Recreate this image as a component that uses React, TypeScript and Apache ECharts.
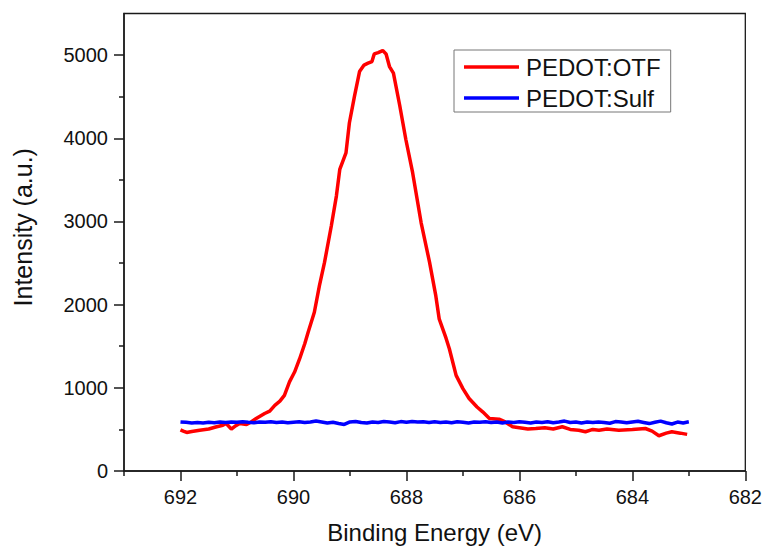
import React, { useEffect, useRef } from "react";
import * as echarts from "echarts";

// PEDOT:OTF (red) – binding energy (eV) and intensity (a.u.)
const otfEnergy = [
  692.0, 691.95, 691.89, 691.8, 691.66, 691.5, 691.36, 691.25, 691.19, 691.1,
  691.02, 690.95, 690.83, 690.75, 690.66, 690.51, 690.42, 690.33, 690.24, 690.16,
  690.07, 689.98, 689.89, 689.8, 689.74, 689.63, 689.54, 689.45, 689.33, 689.24,
  689.18, 689.07, 689.01, 688.92, 688.83, 688.75, 688.68, 688.61, 688.57, 688.5,
  688.42, 688.36, 688.3, 688.23, 688.12, 688.01, 687.89, 687.74, 687.59, 687.48,
  687.42, 687.3, 687.24, 687.12, 687.0, 686.89, 686.75, 686.65, 686.53, 686.36,
  686.25, 686.12, 686.0, 685.85, 685.71, 685.55, 685.4, 685.24, 685.1, 684.95,
  684.83, 684.7, 684.59, 684.45, 684.24, 684.0, 683.77, 683.65, 683.53, 683.4,
  683.3, 683.15, 683.03,
];
const otfIntensity = [
  495, 480, 463, 475, 491, 505, 532, 550, 571, 503,
  545, 571, 559, 590, 631, 691, 720, 790, 840, 910,
  1071, 1190, 1350, 1530, 1669, 1909, 2228, 2508, 2946, 3305,
  3625, 3825, 4184, 4503, 4802, 4880, 4903, 4922, 5014, 5030,
  5054, 5014, 4862, 4783, 4400, 3985, 3586, 2987, 2508, 2108,
  1829, 1600, 1469, 1150, 990, 871, 770, 711, 631, 623,
  590, 532, 520, 505, 511, 520, 505, 532, 500, 490,
  472, 500, 491, 505, 491, 500, 511, 480, 424, 455,
  472, 455, 440,
];

// PEDOT:Sulf (blue) – sampled every 0.1 eV from 692.0 down to 683.0
const sulfEnergy = [
  692.0, 691.9, 691.8, 691.7, 691.6, 691.5, 691.4, 691.3, 691.2, 691.1,
  691.0, 690.9, 690.8, 690.7, 690.6, 690.5, 690.4, 690.3, 690.2, 690.1,
  690.0, 689.9, 689.8, 689.7, 689.6, 689.5, 689.4, 689.3, 689.2, 689.1,
  689.0, 688.9, 688.8, 688.7, 688.6, 688.5, 688.4, 688.3, 688.2, 688.1,
  688.0, 687.9, 687.8, 687.7, 687.6, 687.5, 687.4, 687.3, 687.2, 687.1,
  687.0, 686.9, 686.8, 686.7, 686.6, 686.5, 686.4, 686.3, 686.2, 686.1,
  686.0, 685.9, 685.8, 685.7, 685.6, 685.5, 685.4, 685.3, 685.2, 685.1,
  685.0, 684.9, 684.8, 684.7, 684.6, 684.5, 684.4, 684.3, 684.2, 684.1,
  684.0, 683.9, 683.8, 683.7, 683.6, 683.5, 683.4, 683.3, 683.2, 683.1,
  683.0,
];
const sulfIntensity = [
  590, 585, 578, 582, 576, 585, 580, 588, 582, 590,
  586, 592, 585, 580, 590, 585, 592, 583, 588, 580,
  587, 592, 582, 590, 600, 588, 576, 585, 572, 560,
  590, 596, 582, 576, 590, 584, 596, 590, 580, 594,
  586, 596, 588, 592, 582, 592, 584, 590, 580, 592,
  586, 578, 590, 586, 592, 582, 590, 578, 588, 584,
  592, 586, 578, 590, 584, 592, 580, 588, 600, 584,
  590, 578, 588, 582, 590, 584, 574, 594, 588, 580,
  590, 598, 584, 570, 586, 600, 580, 565, 588, 578,
  592,
];

const seriesNames = ["PEDOT:OTF", "PEDOT:Sulf"];
const xMajorTicks = [682, 684, 686, 688, 690, 692];
const xMinorTicks = [683, 685, 687, 689, 691, 693];
const yMajorTicks = [0, 1000, 2000, 3000, 4000, 5000];
const yMinorTicks = [500, 1500, 2500, 3500, 4500];

const FONT = "'Liberation Sans', Arial, sans-serif";
const AXIS_COLOR = "#1a1a1a";
const TEXT_COLOR = "#111111";

export default function App() {
  const ref = useRef<HTMLDivElement>(null);

  useEffect(() => {
    if (!ref.current) return;
    const chart = echarts.init(ref.current, null, { renderer: "svg" });
    const xRange = { min: 682, max: 693, inverse: true };
    const yRange = { min: 0, max: 5500 };
    const plain = (v: number) => String(v);
    chart.setOption({
      animation: false,
      backgroundColor: "#ffffff",
      grid: {
        left: 124,
        right: 18,
        top: 13.5,
        bottom: 76,
        show: true,
        borderColor: AXIS_COLOR,
        borderWidth: 1.3,
        backgroundColor: "transparent",
      },
      legend: {
        left: 454,
        top: 50,
        orient: "vertical",
        padding: [4, 10, 1, 10],
        itemGap: 5,
        itemWidth: 55,
        itemHeight: 3.5,
        icon: "rect",
        borderColor: "#777",
        borderWidth: 1,
        textStyle: { fontFamily: FONT, fontSize: 24, color: TEXT_COLOR, lineHeight: 26, padding: [0, 0, 0, 2] },
        data: seriesNames,
      },
      xAxis: [
        {
          type: "value",
          position: "bottom",
          ...xRange,
          name: "Binding Energy (eV)",
          nameLocation: "middle",
          nameGap: 49,
          nameTextStyle: { fontFamily: FONT, fontSize: 24, color: TEXT_COLOR },
          axisLine: { show: true, lineStyle: { color: AXIS_COLOR, width: 1.5 } },
          axisTick: { show: true, inside: false, length: 10, customValues: xMajorTicks, lineStyle: { color: AXIS_COLOR, width: 1.5 } },
          axisLabel: { show: true, customValues: xMajorTicks, formatter: plain, margin: 16, fontFamily: FONT, fontSize: 20, color: TEXT_COLOR },
          splitLine: { show: false },
        },
        {
          type: "value",
          position: "bottom",
          ...xRange,
          axisLine: { show: false },
          axisTick: { show: true, inside: false, length: 5, customValues: xMinorTicks, lineStyle: { color: AXIS_COLOR, width: 1.5 } },
          axisLabel: { show: false },
          splitLine: { show: false },
        },
      ],
      yAxis: [
        {
          type: "value",
          position: "left",
          ...yRange,
          name: "Intensity (a.u.)",
          nameLocation: "middle",
          nameGap: 89,
          nameTextStyle: { fontFamily: FONT, fontSize: 25, color: TEXT_COLOR, padding: [0, 0, 0, 30] },
          axisLine: { show: true, lineStyle: { color: AXIS_COLOR, width: 1.5 } },
          axisTick: { show: true, inside: false, length: 10, customValues: yMajorTicks, lineStyle: { color: AXIS_COLOR, width: 1.5 } },
          axisLabel: { show: true, customValues: yMajorTicks, formatter: plain, margin: 16, fontFamily: FONT, fontSize: 20, color: TEXT_COLOR },
          splitLine: { show: false },
        },
        {
          type: "value",
          position: "left",
          ...yRange,
          axisLine: { show: false },
          axisTick: { show: true, inside: false, length: 5, customValues: yMinorTicks, lineStyle: { color: AXIS_COLOR, width: 1.5 } },
          axisLabel: { show: false },
          splitLine: { show: false },
        },
      ],
      series: [
        {
          name: seriesNames[0],
          type: "line",
          xAxisIndex: 0,
          yAxisIndex: 0,
          showSymbol: false,
          symbol: "none",
          lineStyle: { color: "#ff0000", width: 3.5 },
          itemStyle: { color: "#ff0000" },
          data: otfEnergy.map((e, i) => [e, otfIntensity[i]]),
        },
        {
          name: seriesNames[1],
          type: "line",
          xAxisIndex: 0,
          yAxisIndex: 0,
          showSymbol: false,
          symbol: "none",
          lineStyle: { color: "#0000ff", width: 3.5 },
          itemStyle: { color: "#0000ff" },
          data: sulfEnergy.map((e, i) => [e, sulfIntensity[i]]),
        },
      ],
    });
    return () => chart.dispose();
  }, []);

  return (
    <div
      ref={ref}
      style={{ position: "absolute", left: 0, top: 0, width: 765, height: 549 }}
    />
  );
}
